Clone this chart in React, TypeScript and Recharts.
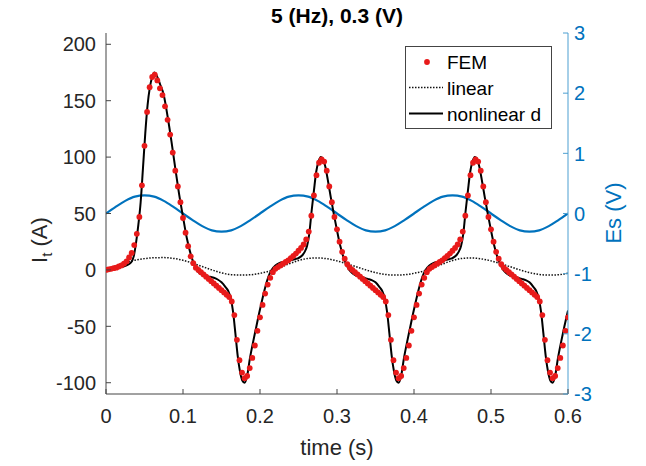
import { ComposedChart, Line, XAxis, YAxis } from "recharts";

const FONT = "'Liberation Sans', Arial, Helvetica, sans-serif";
const AXIS_GRAY = "#444444";
const TEXT_GRAY = "#262626";
const BLUE = "#0072BD";
const BLUE_AXIS = "#4d9fd1";
const RED = "#e81a1a";

const X_TICKS = [0, 0.1, 0.2, 0.3, 0.4, 0.5, 0.6];
const LEFT_TICKS = [-100, -50, 0, 50, 100, 150, 200];
const RIGHT_TICKS = [-3, -2, -1, 0, 1, 2, 3];

// FEM result, one sample every 1/300 s
const FEM_STEP = 1 / 300;
const FEM_CURRENT = [
  0, 0.5, 1, 1.5, 2, 3, 4, 5.5, 7.5, 11, 15, 22, 32, 47, 75, 110, 140, 162, 171, 173,
  168, 161, 155, 145, 133, 120, 104, 88, 74, 60, 46, 33, 21, 12, 6, 2, 0, -2, -4, -6,
  -8, -10, -12, -14, -16, -18, -20, -22, -24, -28, -40, -62, -80, -91, -96, -94, -87, -78, -67, -54,
  -42, -31, -21, -13, -7, -2, 1, 2.5, 4, 5.5, 7, 8.5, 10.5, 12.5, 14.5, 17, 19.5, 22.5, 27, 34,
  48, 66, 84, 95, 98, 96, 88, 74, 60, 47, 36, 25, 16, 10, 5, 2, 0, -2, -4, -6,
  -8, -10, -12, -14, -16, -18, -20, -22, -24, -28, -40, -62, -80, -91, -96, -94, -87, -78, -67, -54,
  -42, -31, -21, -13, -7, -2, 1, 2.5, 4, 5.5, 7, 8.5, 10.5, 12.5, 14.5, 17, 19.5, 22.5, 27, 34,
  48, 66, 84, 95, 98, 96, 88, 74, 60, 47, 36, 25, 16, 10, 5, 2, 0, -2, -4, -6,
  -8, -10, -12, -14, -16, -18, -20, -22, -24, -28, -40, -62, -80, -91, -96, -94, -87, -78, -67, -54,
  -42,
];

// linear model and source voltage, read every 0.0125 s
const SINE_STEP = 0.0125;
const LINEAR_CURRENT = [
  0, 3.5, 6.3, 8.6, 10, 10.8, 10.9, 10.2, 8.5, 6, 3, 0, -2.6, -4.2, -4.6, -4.3, -3,
  -1, 2, 5.3, 8.3, 10.2, 10.6, 9.8, 8, 5.5, 2.8, 0, -2.4, -4, -4.6, -4.3, -3,
  -1, 2, 5.3, 8.3, 10.2, 10.6, 9.8, 8, 5.5, 2.8, 0, -2.4, -4, -4.6, -4.3, -3,
];
const SOURCE_VOLTAGE = [
  0, 0.11, 0.21, 0.28, 0.3, 0.28, 0.21, 0.11, 0, -0.11, -0.21, -0.28, -0.3, -0.28, -0.21, -0.11,
  0, 0.11, 0.21, 0.28, 0.3, 0.28, 0.21, 0.11, 0, -0.11, -0.21, -0.28, -0.3, -0.28, -0.21, -0.11,
  0, 0.11, 0.21, 0.28, 0.3, 0.28, 0.21, 0.11, 0, -0.11, -0.21, -0.28, -0.3, -0.28, -0.21, -0.11,
  0,
];

// nonlinear model, denser around the peaks
const NONLINEAR_TIME = [
  0, 0.01, 0.02, 0.028, 0.033, 0.036, 0.039, 0.042, 0.045, 0.048, 0.051, 0.054, 0.057, 0.06, 0.063,
  0.066, 0.07, 0.075, 0.08, 0.085, 0.09, 0.095, 0.1, 0.105, 0.11, 0.115, 0.12, 0.125, 0.13, 0.135,
  0.14, 0.145, 0.15, 0.155, 0.159, 0.162, 0.165, 0.168, 0.171, 0.174, 0.177, 0.18, 0.183, 0.187,
  0.191, 0.195, 0.199, 0.203, 0.207, 0.211, 0.215, 0.22, 0.225, 0.23, 0.235, 0.24, 0.245, 0.25,
  0.255, 0.258, 0.261, 0.264, 0.267, 0.27, 0.273, 0.276, 0.279, 0.282, 0.285, 0.288, 0.292, 0.296,
  0.3, 0.304, 0.308, 0.312, 0.316, 0.32, 0.325, 0.33, 0.335, 0.34, 0.345, 0.35, 0.355, 0.359, 0.362,
  0.365, 0.368, 0.371, 0.374, 0.377, 0.38, 0.383, 0.387, 0.391, 0.395, 0.399, 0.403, 0.407, 0.411,
  0.415, 0.42, 0.425, 0.43, 0.435, 0.44, 0.445, 0.45, 0.455, 0.458, 0.461, 0.464, 0.467, 0.47,
  0.473, 0.476, 0.479, 0.482, 0.485, 0.488, 0.492, 0.496, 0.5, 0.504, 0.508, 0.512, 0.516, 0.52,
  0.525, 0.53, 0.535, 0.54, 0.545, 0.55, 0.555, 0.559, 0.562, 0.565, 0.568, 0.571, 0.574, 0.577,
  0.58, 0.583, 0.587, 0.591, 0.595, 0.6,
];
const NONLINEAR_CURRENT = [
  0, 1, 2.5, 4.5, 7, 12, 24, 40, 60, 90, 121, 146, 162, 171, 175,
  172, 165, 155, 136, 114, 90, 67, 47, 28, 14, 4, -2, -4.5, -5.5, -6,
  -7, -8.5, -11, -15, -19, -25, -37, -56, -76, -90, -98, -100, -95, -78,
  -64, -51, -38, -26, -15, -6, 0, 4, 6, 7, 7.5, 8.5, 9.5, 10.5,
  13, 16, 21, 32, 52, 70, 87, 96, 100, 98, 91, 80, 64, 49,
  35, 22, 12, 5, 0, -3, -5, -6, -7, -8, -9, -11, -15, -19, -25,
  -37, -56, -76, -90, -98, -100, -95, -78, -64, -51, -38, -26, -15, -6,
  0, 4, 6, 7, 7.5, 8.5, 9.5, 10.5, 13, 16, 21, 32, 52, 70,
  87, 96, 100, 98, 91, 80, 64, 49, 35, 22, 12, 5, 0, -3,
  -5, -6, -7, -8, -9, -11, -15, -19, -25, -37, -56, -76, -90, -98,
  -100, -95, -78, -64, -51, -36,
];

const femData = FEM_CURRENT.map((v, i) => ({ t: i * FEM_STEP, v }));
const linearData = LINEAR_CURRENT.map((v, i) => ({ t: i * SINE_STEP, v }));
const voltageData = SOURCE_VOLTAGE.map((v, i) => ({ t: i * SINE_STEP, v }));
const nonlinearData = NONLINEAR_TIME.map((t, i) => ({ t, v: NONLINEAR_CURRENT[i] }));

const TICK_LEN = 5;

// MATLAB style ticks: marks point into the plot
function LeftTick({ x, y, payload }: any) {
  const ax = x + 10;
  return (
    <g>
      <line x1={ax} x2={ax + TICK_LEN} y1={y} y2={y} stroke={AXIS_GRAY} />
      <text x={x} y={y} dy="0.36em" textAnchor="end" fontSize={20} fontFamily={FONT} fill={TEXT_GRAY}>
        {payload.value}
      </text>
    </g>
  );
}

function RightTick({ x, y, payload }: any) {
  const ax = x - 6;
  return (
    <g>
      <line x1={ax - TICK_LEN} x2={ax} y1={y} y2={y} stroke={BLUE_AXIS} />
      <text x={x} y={y} dy="0.36em" textAnchor="start" fontSize={20} fontFamily={FONT} fill={BLUE}>
        {payload.value}
      </text>
    </g>
  );
}

function BottomTick({ x, y, payload }: any) {
  const ay = y - 15;
  return (
    <g>
      <line x1={x} x2={x} y1={ay} y2={ay - TICK_LEN} stroke={AXIS_GRAY} />
      <text x={x} y={y} dy="0.72em" textAnchor="middle" fontSize={20} fontFamily={FONT} fill={TEXT_GRAY}>
        {payload.value}
      </text>
    </g>
  );
}

export default function App() {
  return (
    <div style={{ position: "absolute", left: 0, top: 0, width: 646, height: 466, background: "#fff" }}>
      <ComposedChart width={646} height={466} margin={{ top: 33, right: 0, bottom: 0, left: 0 }}>
        <XAxis
          dataKey="t"
          type="number"
          domain={[0, 0.6]}
          ticks={X_TICKS}
          interval={0}
          height={72}
          allowDataOverflow
          axisLine={{ stroke: AXIS_GRAY }}
          tickLine={false}
          tickSize={0}
          tickMargin={15}
          tick={(p: any) => <BottomTick {...p} />}
        />
        <YAxis
          yAxisId="left"
          type="number"
          domain={[-110, 210]}
          ticks={LEFT_TICKS}
          interval={0}
          width={106}
          allowDataOverflow
          axisLine={{ stroke: AXIS_GRAY }}
          tickLine={false}
          tickSize={0}
          tickMargin={10}
          tick={(p: any) => <LeftTick {...p} />}
        />
        <YAxis
          yAxisId="right"
          orientation="right"
          type="number"
          domain={[-3, 3]}
          ticks={RIGHT_TICKS}
          interval={0}
          width={78}
          allowDataOverflow
          axisLine={{ stroke: BLUE_AXIS }}
          tickLine={false}
          tickSize={0}
          tickMargin={6}
          tick={(p: any) => <RightTick {...p} />}
        />
        <Line
          yAxisId="right"
          data={voltageData}
          dataKey="v"
          type="monotone"
          stroke={BLUE}
          strokeWidth={2.2}
          dot={false}
          isAnimationActive={false}
        />
        <Line
          yAxisId="left"
          data={linearData}
          dataKey="v"
          type="monotone"
          stroke="#111"
          strokeWidth={1.5}
          strokeDasharray="1.5 1.5"
          dot={false}
          isAnimationActive={false}
        />
        <Line
          yAxisId="left"
          data={nonlinearData}
          dataKey="v"
          type="monotone"
          stroke="#000"
          strokeWidth={2}
          dot={false}
          isAnimationActive={false}
        />
        <Line
          yAxisId="left"
          data={femData}
          dataKey="v"
          stroke="none"
          dot={{ r: 2.9, fill: RED, stroke: "none" }}
          isAnimationActive={false}
        />
      </ComposedChart>

      <svg width={646} height={466} style={{ position: "absolute", left: 0, top: 0, pointerEvents: "none" }}>
        <text x={337} y={23} textAnchor="middle" fontSize={21} fontWeight="bold" fontFamily={FONT} fill="#000">
          5 (Hz), 0.3 (V)
        </text>
        <text x={337} y={455} textAnchor="middle" fontSize={22} fontFamily={FONT} fill={TEXT_GRAY}>
          time (s)
        </text>
        <text transform="translate(47,240) rotate(-90)" textAnchor="middle" fontSize={22} fontFamily={FONT} fill={TEXT_GRAY}>
          I<tspan dy={5} fontSize={15}>t</tspan>
          <tspan dy={-5}> (A)</tspan>
        </text>
        <text transform="translate(621,213) rotate(-90)" textAnchor="middle" fontSize={22} fontFamily={FONT} fill={BLUE}>
          Es (V)
        </text>

        <rect x={405.5} y={46.5} width={146} height={82} fill="#fff" stroke={AXIS_GRAY} strokeWidth={1} />
        <circle cx={427} cy={62} r={2.9} fill={RED} />
        <text x={447} y={69} fontSize={19} fontFamily={FONT} fill="#000">FEM</text>
        <line x1={409} x2={443} y1={87.5} y2={87.5} stroke="#111" strokeWidth={1.5} strokeDasharray="1.5 1.5" />
        <text x={447} y={94.5} fontSize={19} fontFamily={FONT} fill="#000">linear</text>
        <line x1={409} x2={443} y1={113.5} y2={113.5} stroke="#000" strokeWidth={2} />
        <text x={447} y={120.5} fontSize={19} fontFamily={FONT} fill="#000">nonlinear d</text>
      </svg>
    </div>
  );
}
